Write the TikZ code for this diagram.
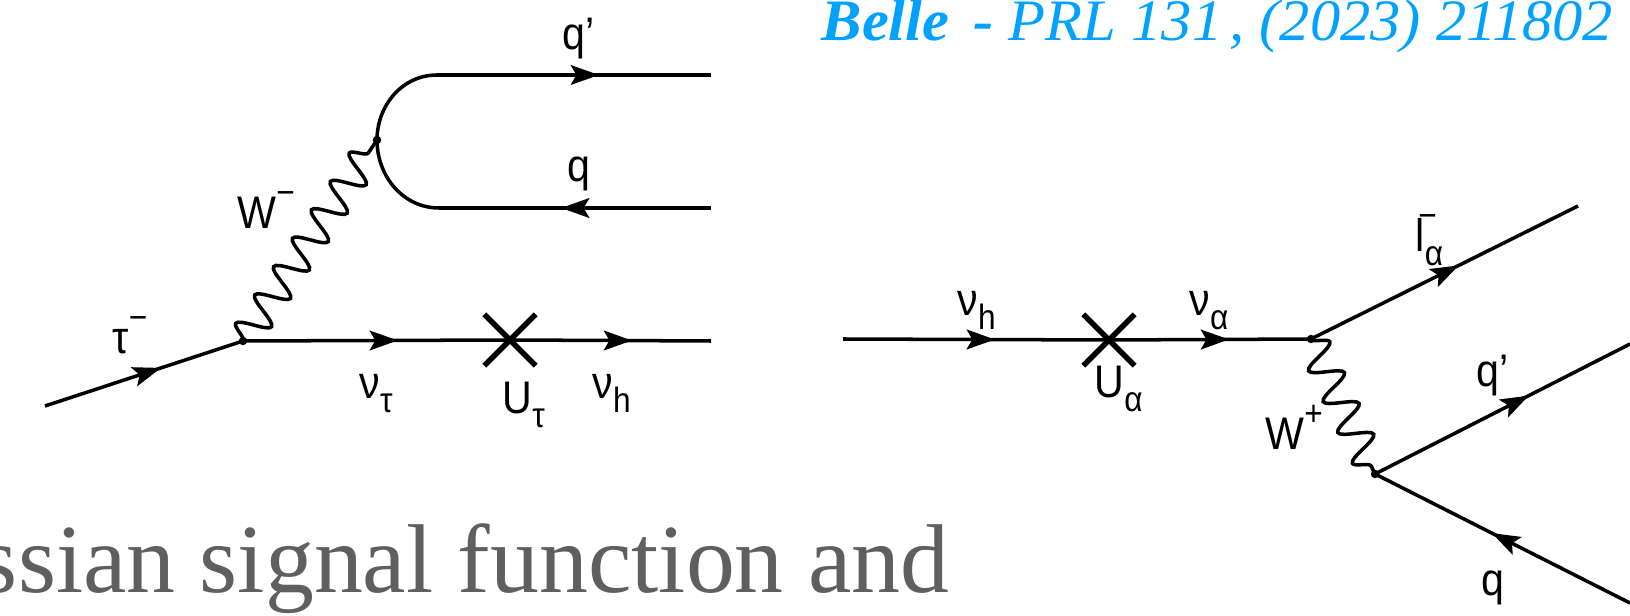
\documentclass[tikz,border=0pt]{standalone}
\usepackage{fontspec}
\setmainfont{Liberation Sans}
\newfontfamily\titlefont{Liberation Serif}
\usetikzlibrary{arrows.meta}
\usetikzlibrary{shapes.misc}
\usetikzlibrary{decorations.pathmorphing}
\usetikzlibrary{decorations.markings}
\definecolor{bellecolor}{HTML}{00A2FF}
\definecolor{pagecolor}{HTML}{5F5F5F}
\newcommand{\lowtext}[1]{\raisebox{-0.55ex}{\fontsize{10}{10}\selectfont #1}}
\newcommand{\hightext}[1]{\raisebox{1.0ex}{\fontsize{10}{10}\selectfont #1}}
\tikzset{
  wire/.style={line width=1pt},
  wiretip/.tip={Stealth[length=8pt,width=5.6pt,inset=1.6pt]},
  fermion/.style={wire,postaction={decorate,decoration={markings,mark=at position #1 with {\arrow{wiretip}}}}},
  antifermion/.style={wire,postaction={decorate,decoration={markings,mark=at position #1 with {\arrowreversed{wiretip}}}}},
  boson/.style={wire,decorate,decoration={snake,segment length=9.7pt,amplitude=4.5pt}},
  vtx/.style={circle,fill=black,inner sep=0pt,minimum size=2.4pt},
  mixing/.style={draw,cross out,line width=1.6pt,inner sep=0pt,minimum size=13pt},
  particle/.style={anchor=base west,inner sep=0pt,font=\fontsize{13}{13}\selectfont,xscale=0.9,transform shape},
}
\begin{document}
\begin{tikzpicture}[x=0.01cm,y=0.01cm]
\useasboundingbox (0,0) rectangle (1630,615);
\coordinate (tauin) at (45,209);
\node[vtx] (vtau) at (243,274) {};
\node[mixing] (crosstau) at (510,275) {};
\coordinate (nuhout) at (711,274);
\node[vtx] (vwminus) at (377,475) {};
\coordinate (qpstart) at (437,540);
\coordinate (qpend) at (711,540);
\coordinate (qstart) at (439,407);
\coordinate (qend) at (711,407);
\draw[fermion=0.586] (tauin) -- (vtau.center);
\draw[fermion=0.58] (vtau.center) -- (crosstau.center);
\draw[fermion=0.607] (crosstau.center) -- (nuhout);
\draw[boson] (vtau.center) -- (vwminus.center);
\draw[wire] (qpstart) to[out=180,in=90] (vwminus.center) to[out=-90,in=180] (qstart);
\draw[fermion=0.591] (qpstart) -- (qpend);
\draw[antifermion=0.449] (qstart) -- (qend);
\coordinate (nuhin) at (843,276);
\node[mixing] (crossalpha) at (1109,275) {};
\node[vtx] (vlepton) at (1311,276) {};
\node[vtx] (vquark) at (1375,141) {};
\coordinate (leptonend) at (1578,409);
\coordinate (qpright) at (1630,271);
\coordinate (qright) at (1630,12);
\draw[fermion=0.571] (nuhin) -- (crossalpha.center);
\draw[fermion=0.594] (crossalpha.center) -- (vlepton.center);
\draw[fermion=0.554] (vlepton.center) -- (leptonend);
\draw[boson] (vlepton.center) -- (vquark.center);
\draw[fermion=0.604] (vquark.center) -- (qpright);
\draw[antifermion=0.459] (vquark.center) -- (qright);
\node[particle] (lblqp) at (562,565) {q’};
\node[particle] (lblq) at (567,433) {q};
\node[particle] (lblwm) at (237,386) {W\hightext{−}};
\node[particle] (lbltau) at (112,261) {τ\hightext{−}};
\node[particle] (lblnutau) at (359,216) {ν\lowtext{τ}};
\node[particle] (lblutau) at (502,201) {U\lowtext{τ}};
\node[particle] (lblnuh) at (592,216) {ν\lowtext{h}};
\node[particle] (lblnuhr) at (957,299) {ν\lowtext{h}};
\node[particle] (lblnualpha) at (1189,299) {ν\lowtext{α}};
\node[particle] (lblualpha) at (1094,217) {U\lowtext{α}};
\node[particle] (lbllepton) at (1415,363) {l\lowtext{α}\kern-0.6em\hightext{−}};
\node[particle] (lblqpr) at (1476,228) {q’};
\node[particle] (lblwp) at (1265,165) {W\hightext{+}};
\node[particle] (lblqr) at (1481,20) {q};
\node[anchor=base west,inner sep=0pt,text=bellecolor,font=\titlefont\fontsize{16.7}{17}\selectfont\itshape,xscale=1.03,transform shape] (citation) at (821,574) {\textbf{Belle}\kern0.4em\textbf{-} PRL 131\kern0.12em, (2023) 211802};
\node[anchor=base east,inner sep=0pt,text=pagecolor,font=\titlefont\fontsize{27.8}{28}\selectfont,xscale=1,transform shape] (pagetext) at (950,22) {ssian signal function and};
\end{tikzpicture}
\end{document}
